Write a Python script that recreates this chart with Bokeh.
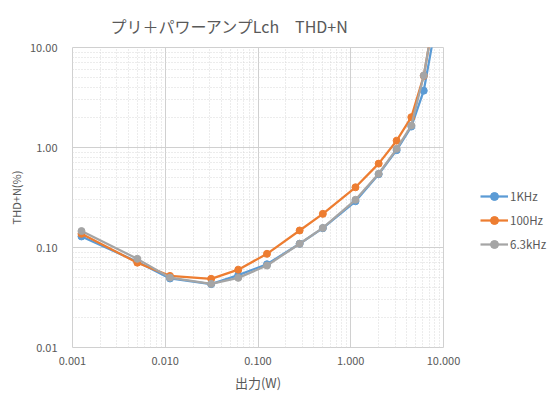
from bokeh.plotting import figure
from bokeh.layouts import row
from bokeh.models import FixedTicker, Legend, LegendItem, Range1d, PrintfTickFormatter
from bokeh.embed import file_html
from bokeh.resources import INLINE

# --- data ---
power_w = [0.00125, 0.005, 0.01125, 0.03125, 0.06125, 0.125, 0.28125, 0.5,
           1.125, 2.0, 3.125, 4.5, 6.125, 8.0]
thd_1khz = [0.129, 0.072, 0.049, 0.043, 0.053, 0.068, 0.109, 0.156,
            0.29, 0.54, 0.94, 1.62, 3.7, 14.5]
thd_100hz = [0.137, 0.0705, 0.052, 0.0486, 0.060, 0.0865, 0.148, 0.217,
             0.40, 0.69, 1.17, 2.01, 5.2, 22.0]
thd_6k3hz = [0.146, 0.077, 0.050, 0.0433, 0.0497, 0.066, 0.109, 0.157,
             0.30, 0.546, 0.97, 1.66, 5.25, 22.0]
series_names = ["1KHz", "100Hz", "6.3kHz"]
series_colors = ["#5B9BD5", "#ED7D31", "#A5A5A5"]

x_ticks = [0.001, 0.01, 0.1, 1.0, 10.0]
x_tick_labels = ["0.001", "0.010", "0.100", "1.000", "10.000"]
y_ticks = [0.01, 0.1, 1.0, 10.0]
y_tick_labels = ["0.01", "0.10", "1.00", "10.00"]

title_text = "プリ＋パワーアンプLch　THD+N"
x_label = "出力(W)"
y_label = "THD+N(%)"

FONT = "Noto Sans CJK JP"
TXT = "#595959"

H = 398
W1 = 474
W2 = 549 - W1

p = figure(width=W1, height=H, x_axis_type="log", y_axis_type="log",
           x_range=Range1d(0.001, 10), y_range=Range1d(0.01, 10),
           output_backend="svg", toolbar_location=None,
           min_border_left=72, min_border_right=31,
           min_border_top=47, min_border_bottom=51)

p.title.text = title_text
p.title.align = "left"
p.title.offset = 38
p.title.text_font = FONT
p.title.text_font_size = "16px"
p.title.text_font_style = "normal"
p.title.text_color = TXT
p.title.standoff = 19

p.outline_line_color = "#d0d0d0"
p.background_fill_color = "white"
p.border_fill_color = "white"

def minors(ticks):
    out = []
    for t in ticks[:-1]:
        out += [t * m for m in range(2, 10)]
    return out

p.xaxis.ticker = FixedTicker(ticks=x_ticks, minor_ticks=minors(x_ticks))
p.yaxis.ticker = FixedTicker(ticks=y_ticks, minor_ticks=minors(y_ticks))
p.xaxis.formatter = PrintfTickFormatter(format="%.3f")
p.yaxis.formatter = PrintfTickFormatter(format="%.2f")
p.xaxis.major_label_overrides = dict(zip(x_ticks, x_tick_labels))
p.yaxis.major_label_overrides = dict(zip(y_ticks, y_tick_labels))

for ax in (p.xaxis[0], p.yaxis[0]):
    ax.axis_line_color = None
    ax.major_tick_line_color = None
    ax.minor_tick_line_color = None
    ax.major_tick_out = 0
    ax.major_tick_in = 0
    ax.minor_tick_out = 0
    ax.minor_tick_in = 0
    ax.major_label_text_font = FONT
    ax.major_label_text_font_size = "11px"
    ax.major_label_text_color = TXT
    ax.axis_label_text_font = FONT
    ax.axis_label_text_font_style = "normal"
    ax.axis_label_text_color = TXT

p.xaxis.axis_label = x_label
p.yaxis.axis_label = y_label
p.xaxis.axis_label_text_font_size = "13px"
p.yaxis.axis_label_text_font_size = "11px"
p.xaxis.major_label_standoff = 9
p.yaxis.major_label_standoff = 15
p.xaxis.axis_label_standoff = 5
p.yaxis.axis_label_standoff = 3

for g in (p.xgrid[0], p.ygrid[0]):
    g.grid_line_color = "#d0d0d0"
    g.grid_line_width = 1
    g.minor_grid_line_color = "#d9d9d9"
    g.minor_grid_line_dash = "1 2"
    g.minor_grid_line_width = 1

for col, ys in zip(series_colors, [thd_1khz, thd_100hz, thd_6k3hz]):
    p.line(power_w, ys, line_color=col, line_width=2.25)
    p.scatter(power_w, ys, marker="circle", size=7, fill_color=col, line_color=col)

# legend panel (separate narrow figure to the right of the chart)
q = figure(width=W2, height=H, output_backend="svg", toolbar_location=None,
           x_range=Range1d(0, 1), y_range=Range1d(0, 1),
           min_border=0, outline_line_color=None)
q.axis.visible = False
q.grid.visible = False
items = []
for name, col in zip(series_names, series_colors):
    r1 = q.line([-5, -4], [-5, -4], line_color=col, line_width=2.25)
    r2 = q.scatter([-5], [-5], marker="circle", size=7, fill_color=col, line_color=col)
    items.append(LegendItem(label=name, renderers=[r1, r2]))
legend = Legend(items=items, location=(6, 93), margin=0, padding=0,
                spacing=4, glyph_height=20, glyph_width=28,
                label_text_font=FONT, label_text_font_size="11.5px",
                label_text_color=TXT, label_standoff=2,
                border_line_color=None, background_fill_alpha=0)
q.add_layout(legend, "center")

layout = row(p, q, spacing=0)
open("out.html", "w").write(file_html(layout, INLINE))
